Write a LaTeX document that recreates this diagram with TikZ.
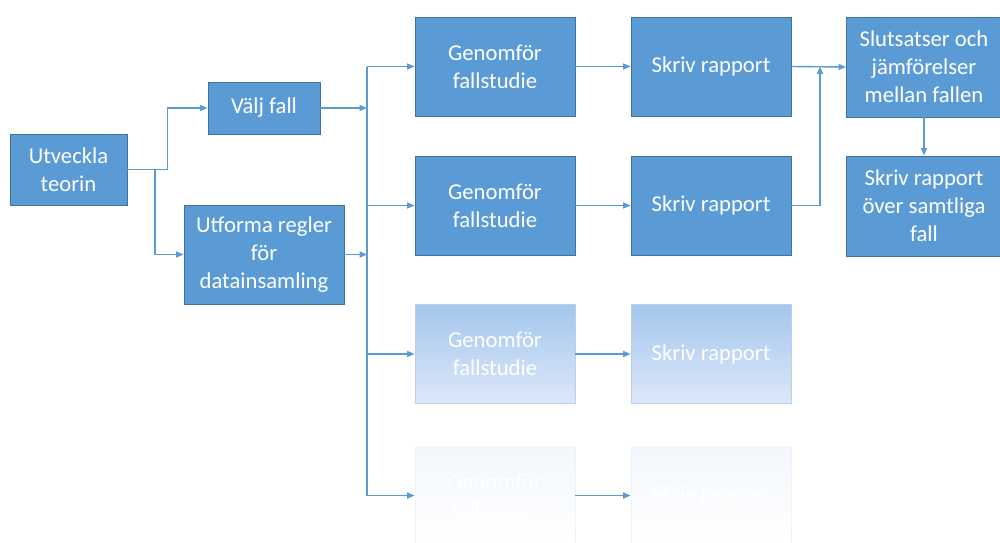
\documentclass[tikz,border=0pt]{standalone}
\usepackage{fontspec}
\setmainfont{Carlito}
\usepackage{xcolor}
\usetikzlibrary{arrows.meta}

\definecolor{boxblue}{HTML}{5B9BD5}
\definecolor{boxline}{HTML}{41719C}
\definecolor{fadetop}{HTML}{A4C6EE}
\definecolor{fadebot}{HTML}{DCE8F8}
\definecolor{fadeline}{HTML}{B9CFEA}
\definecolor{ghosttop}{HTML}{F3F7FC}
\definecolor{ghostline}{HTML}{EEF3FA}

\begin{document}
\begin{tikzpicture}[x=0.02cm, y=-0.02cm]
        \tikzstyle{box}=[rectangle, draw=boxline, fill=boxblue, line width=0.5pt, text=white, align=center,
                         font=\fontsize{12.9pt}{15.9pt}\selectfont, inner sep=2pt]
        \tikzstyle{fadebox}=[box, fill=none, draw=fadeline, top color=fadetop, bottom color=fadebot]
        \tikzstyle{ghostbox}=[box, fill=none, draw=ghostline, top color=ghosttop, bottom color=white]
        \tikzstyle{arr}=[draw=boxblue, line width=0.8pt, -{Triangle[length=4.2pt,width=3.4pt]}]
        \tikzstyle{wire}=[draw=boxblue, line width=0.8pt]

        \useasboundingbox (0,0) rectangle (1000,542);

        % Nodes
        \node[box, minimum width=2.34cm, minimum height=1.42cm] (utv) at (68.5,169.5) {Utveckla\\teorin};
        \node[box, minimum width=2.24cm, minimum height=1.04cm] (valj) at (264,108) {Välj fall};
        \node[box, minimum width=3.2cm, minimum height=1.98cm] (utf) at (264,254.5) {Utforma regler\\för\\datainsamling};

        \foreach \i/\y/\sty in {1/66.5/box, 2/205.5/box, 3/354/fadebox, 4/495.5/ghostbox} {
            \node[\sty, minimum width=3.2cm, minimum height=1.98cm] (gen\i) at (495,\y) {Genomför\\fallstudie};
            \node[\sty, minimum width=3.2cm, minimum height=1.98cm] (skr\i) at (711,\y) {Skriv rapport};
        }

        \node[box, minimum width=3.1cm, minimum height=2.0cm] (slut) at (924,67) {Slutsatser och\\jämförelser\\mellan fallen};
        \node[box, minimum width=3.1cm, minimum height=2.0cm] (samt) at (924,206) {Skriv rapport\\över samtliga\\fall};

        % Helper points
        \coordinate (split) at (155,169.5);
        \coordinate (bustop) at (367,66.5);
        \coordinate (busbot) at (367,495.5);
        \coordinate (merge) at (820,66.5);

        % Edges
        \draw[arr] (utv.east) -- ++(40,0) |- (valj.west);
        \draw[arr] (split) |- (utf.west);

        \draw[wire] (bustop) -- (busbot);
        \draw[arr] (valj.east) -- (valj.east -| bustop);
        \draw[arr] (utf.east) -- (utf.east -| bustop);

        \foreach \i in {1,...,4} {
            \draw[arr] (gen\i.west -| bustop) -- (gen\i.west);
            \draw[arr] (gen\i) -- (skr\i);
        }

        \draw[arr] (skr1.east) -- (slut.west);
        \draw[arr] (skr2.east) -| (merge);
        \draw[arr] (slut.south) -- (samt.north);

    \end{tikzpicture}
\end{document}
